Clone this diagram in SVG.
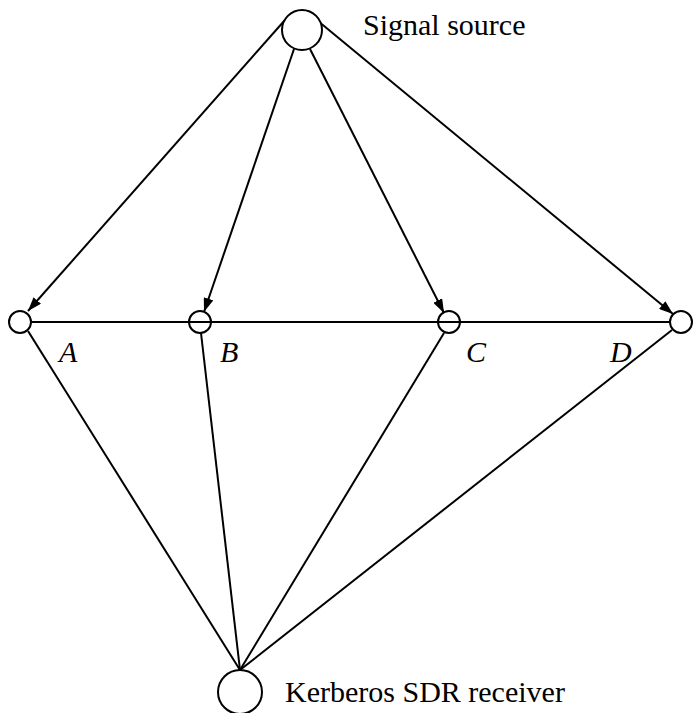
<svg xmlns="http://www.w3.org/2000/svg" width="700" height="713" viewBox="0 0 700 713">
<style>
.n{fill:#fff;stroke:#000;stroke-width:2}
.h{fill:none;stroke:#000;stroke-width:2}
.e{stroke:#000;stroke-width:2;fill:none}
.t{font-family:"Liberation Serif",serif;font-size:30px;fill:#000}
.i{font-style:italic}
</style>
<defs>
<marker id="ah" viewBox="0 0 14 10" refX="14" refY="5" markerWidth="14" markerHeight="10" markerUnits="userSpaceOnUse" orient="auto">
<path d="M0,0 L14,5 L0,10 Z" fill="#000"/>
</marker>
</defs>
<g id="edges">
<line class="e" x1="31" y1="322" x2="670" y2="322"/>
<line class="e" x1="28" y1="331" x2="240" y2="670"/>
<line class="e" x1="201" y1="333" x2="240" y2="670"/>
<line class="e" x1="444" y1="333" x2="240" y2="670"/>
<line class="e" x1="672" y1="330" x2="240" y2="670"/>
<line class="e" x1="285" y1="20" x2="28" y2="311" marker-end="url(#ah)"/>
<line class="e" x1="294" y1="49" x2="204" y2="312" marker-end="url(#ah)"/>
<line class="e" x1="310" y1="49" x2="444" y2="313" marker-end="url(#ah)"/>
<line class="e" x1="318" y1="21" x2="673" y2="314" marker-end="url(#ah)"/>
</g>
<g id="source"><circle class="n" cx="302" cy="30" r="20"/><text class="t" x="363" y="35">Signal source</text></g>
<g id="A"><circle class="n" cx="20" cy="322" r="11"/><text class="t i" x="59" y="362">A</text></g>
<g id="B"><circle class="h" cx="200" cy="322" r="11"/><text class="t i" x="220" y="362">B</text></g>
<g id="C"><circle class="h" cx="449" cy="322" r="11"/><text class="t i" x="466" y="362">C</text></g>
<g id="D"><circle class="n" cx="681" cy="322" r="11"/><text class="t i" x="610" y="362">D</text></g>
<g id="receiver"><circle class="n" cx="240" cy="692" r="22"/><text class="t" x="285" y="702">Kerberos SDR receiver</text></g>
</svg>
